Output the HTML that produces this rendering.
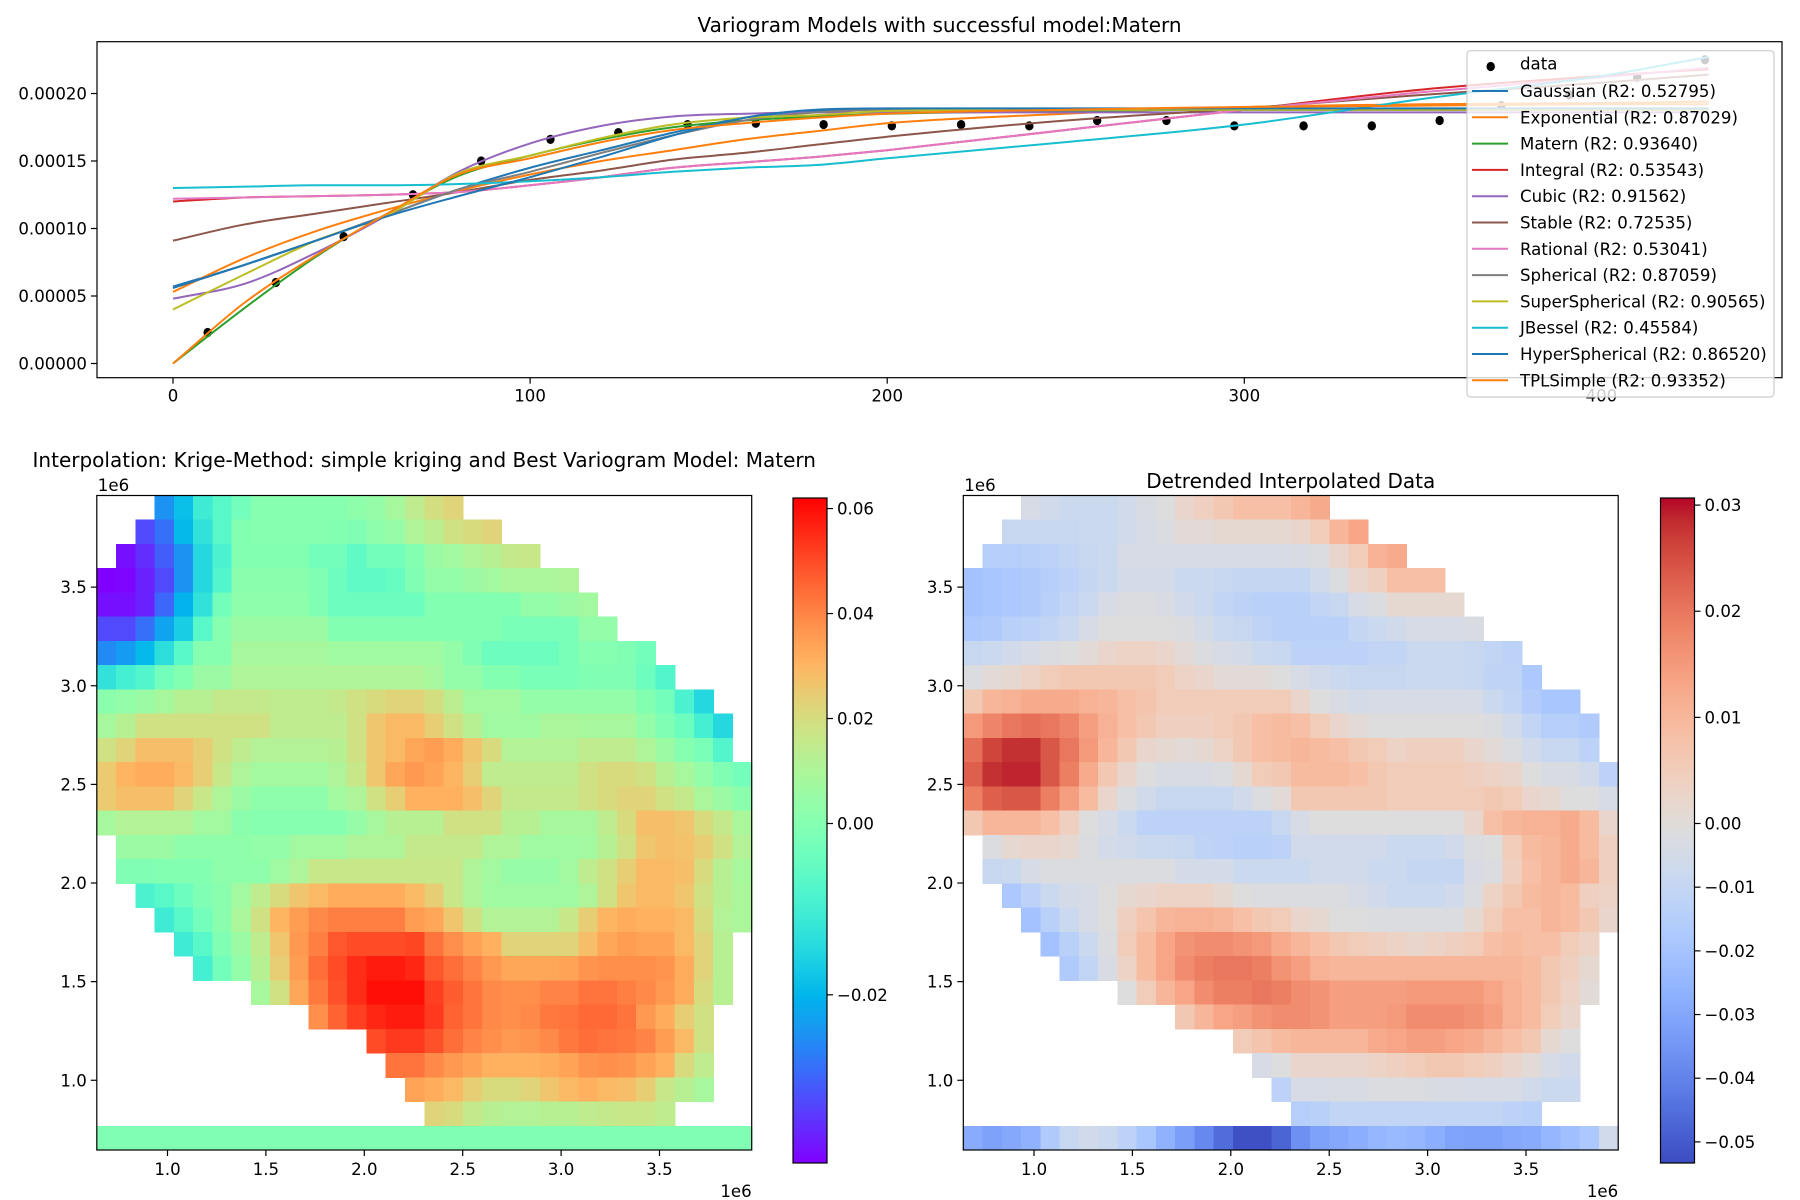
<!DOCTYPE html>
<html>
<head>
<meta charset="utf-8">
<style>
  html,body{margin:0;padding:0;background:#fff;}
  svg{display:block;font-family:"DejaVu Sans","Liberation Sans",sans-serif;}
</style>
</head>
<body>
<svg id="fig" xmlns="http://www.w3.org/2000/svg" width="1800" height="1200" viewBox="0 0 1800 1200">
  <rect x="0" y="0" width="1800" height="1200" fill="#ffffff"/>
</svg>
<script>
// ================= TOP CHART DATA (variance values in units of 1e-5) =================
const lagX = [0,20,40,60,80,100,120,140,160,180,200,250,300,350,400,430];
const dataX = [9.7,28.8,47.8,67.2,86.3,105.7,124.7,144.1,163.2,182.2,201.3,220.7,239.8,258.8,278.2,297.2,316.6,335.7,354.7,372,391,410,429];
const dataY = [2.3,6.0,9.4,12.5,15.0,16.6,17.1,17.7,17.8,17.7,17.6,17.7,17.6,18.0,18.0,17.6,17.6,17.6,18.0,19.1,19.9,21.2,22.5];
const gaussianVals      = [5.7,7.3,9.1,11.0,12.9,14.5,15.8,17.1,18.2,18.7,18.8,18.8,18.8,18.8,18.8,18.8];
const exponentialVals   = [5.3,7.8,9.8,11.4,12.8,14.0,15.0,15.8,16.6,17.2,17.8,18.5,19.0,19.2,19.3,19.4];
const maternVals        = [0.0,4.1,7.9,11.1,13.9,15.4,16.6,17.5,18.0,18.3,18.5,18.7,18.8,18.8,18.8,18.8];
const integralVals      = [12.0,12.3,12.4,12.5,12.7,13.2,13.8,14.5,14.9,15.3,15.8,17.3,18.8,20.3,21.3,21.8];
const cubicVals         = [4.8,5.9,8.2,11.0,14.2,16.3,17.6,18.3,18.5,18.6,18.6,18.6,18.6,18.6,18.6,18.6];
const stableVals        = [9.1,10.3,11.1,11.9,12.7,13.6,14.3,15.1,15.6,16.2,16.8,18.0,18.9,19.9,20.8,21.4];
const rationalVals      = [12.2,12.3,12.4,12.5,12.7,13.2,13.8,14.5,14.9,15.3,15.8,17.3,18.8,20.1,21.2,21.9];
const sphericalVals     = [5.6,7.3,9.1,11.0,12.9,14.2,15.6,16.9,18.0,18.6,18.8,18.8,18.8,18.8,18.8,18.8];
const superSphericalVals= [4.0,6.6,9.1,11.0,14.1,15.4,16.7,17.7,18.2,18.4,18.7,18.8,18.8,18.8,18.8,18.8];
const jbesselVals       = [13.0,13.1,13.2,13.2,13.3,13.5,13.8,14.2,14.5,14.7,15.2,16.4,17.7,19.6,21.3,22.7];
const hyperSphericalVals= [5.6,7.3,9.1,10.9,12.4,13.8,15.3,16.9,18.2,18.8,18.9,18.9,18.9,18.9,18.9,18.9];
const tplSimpleVals     = [0.0,4.5,8.0,11.1,14.0,15.2,16.4,17.3,17.8,18.2,18.5,18.8,19.0,19.1,19.2,19.2];
const modelNames = ["Gaussian","Exponential","Matern","Integral","Cubic","Stable","Rational","Spherical","SuperSpherical","JBessel","HyperSpherical","TPLSimple"];
const modelR2 = ["0.52795","0.87029","0.93640","0.53543","0.91562","0.72535","0.53041","0.87059","0.90565","0.45584","0.86520","0.93352"];
const modelSeries = [gaussianVals,exponentialVals,maternVals,integralVals,cubicVals,stableVals,rationalVals,sphericalVals,superSphericalVals,jbesselVals,hyperSphericalVals,tplSimpleVals];
const xTickVals = [0,100,200,300,400];
const yTickVals = [0,5,10,15,20];
const yTickLabels = ["0.00000","0.00005","0.00010","0.00015","0.00020"];

// ================= HEATMAP DATA (values in units of 1e-3; rows top->bottom) =================
const gridStarts = [3,2,1,0,0,0,0,0,0,0,0,0,0,0,1,1,2,3,4,5,8,11,14,15,16,17,0];
const krigeRows = [
[-24,-18,-10,-6,-2,2,2,2,2,2,4,6,10,16,21,24],
[-32,-28,-19,-12,-6,1,2,2,2,2,1,0,4,6,12,15,20,22,24],
[-38,-35,-30,-24,-14,-8,1,1,1,1,-2,-2,-5,-2,-2,1,7,9,12,14,17,18],
[-40,-39,-36,-32,-24,-14,-7,3,3,3,3,0,-3,-5,-5,-4,0,5,5,7,9,11,11,11,12],
[-38,-38,-36,-29,-20,-12,-2,4,4,4,4,0,-3,-3,-3,-3,-3,1,1,1,1,1,5,5,7,9],
[-32,-32,-28,-22,-16,-6,2,7,7,7,7,7,1,1,1,1,1,1,1,1,1,-1,-1,-1,-1,5,5],
[-25,-23,-19,-13,-6,2,2,10,10,10,10,10,8,8,8,8,8,8,5,0,-3,-3,-3,-3,-1,2,2,0,-2],
[-12,-9,-7,-2,1,7,7,12,12,12,12,12,12,12,12,12,12,10,5,5,1,1,-1,-1,-1,0,0,0,-3,-7],
[3,5,7,10,14,14,17,17,17,16,16,16,17,20,22,24,24,21,15,9,9,9,5,5,5,5,5,5,1,-2,-8,-14],
[10,14,20,20,20,20,20,20,20,16,16,16,16,20,28,31,31,26,20,14,8,8,8,11,11,10,10,10,5,0,-3,-9,-14],
[20,24,30,30,30,26,20,16,13,13,13,13,14,20,28,31,35,37,34,28,22,13,13,13,13,16,16,16,12,7,2,-1,-7],
[27,32,34,34,31,26,18,12,9,9,9,9,12,18,28,35,38,36,32,26,16,16,16,16,16,20,22,22,20,14,10,5,0,-2],
[27,30,30,30,24,18,12,7,4,4,4,4,9,12,20,26,33,33,33,30,24,17,17,17,17,20,22,24,24,20,17,11,7,3],
[10,13,13,13,13,9,9,3,2,2,2,2,2,6,10,14,14,14,20,20,20,14,14,10,10,10,16,22,30,30,28,22,17,11],
[7,7,7,4,4,4,4,5,5,9,9,9,12,12,12,17,17,17,17,12,12,8,8,8,9,14,20,28,30,29,26,20,13],
[0,0,1,1,1,4,4,4,8,12,18,18,18,18,18,18,18,18,12,9,6,6,6,9,16,20,26,31,31,30,22,14,10],
[-8,-6,-3,0,3,9,16,22,28,31,34,34,34,34,31,26,18,12,8,8,8,8,8,12,20,28,31,31,28,20,14,11],
[-10,-6,-2,3,11,20,32,37,41,43,43,43,43,37,35,28,20,13,13,13,13,18,26,32,34,33,33,31,22,13,11],
[-10,-6,0,7,16,28,38,43,50,52,52,52,53,45,40,36,33,24,24,24,24,30,35,37,36,36,31,24,14],
[-9,-2,5,14,26,37,46,52,57,60,60,58,50,46,42,38,35,35,35,36,39,40,40,40,39,34,24,14],
[10,20,35,44,51,57,62,62,62,54,49,45,41,40,40,42,42,45,45,43,41,38,34,22,14],
[40,48,54,58,60,60,55,48,45,41,40,41,44,45,47,47,45,38,34,26,20],
[52,55,55,51,46,42,40,38,39,41,44,46,45,44,42,37,31,20],
[45,45,41,38,36,33,33,33,34,36,39,40,39,36,33,22,16],
[36,34,31,26,22,22,24,28,31,33,31,30,26,18,14,10],
[24,22,17,14,13,13,14,14,16,17,18,18,16],
[0,0,0,0,0,0,0,0,0,0,0,0,0,0,0,0,0,0,0,0,0,0,0,0,0,0,0,0,0,0,0,0,0,0]
];
const detrendRows = [
[-3,-5,-7,-7,-7,-5,-2,0,3,5,7,9,9,9,11,13],
[-8,-8,-8,-8,-7,-7,-5,-3,-1,1,1,2,2,2,2,3,6,11,14],
[-14,-14,-13,-12,-10,-8,-7,-3,-3,-3,-3,-3,-3,-3,-3,-3,-2,-1,3,6,12,13],
[-20,-18,-17,-16,-14,-12,-9,-7,-4,-4,-4,-7,-7,-8,-9,-9,-9,-9,-5,-1,3,5,9,9,9],
[-20,-18,-17,-16,-13,-10,-7,-3,-1,-1,-2,-5,-7,-10,-12,-13,-13,-13,-10,-8,-3,-1,2,2,2,2],
[-17,-16,-13,-12,-10,-7,-3,0,0,0,0,-1,-4,-7,-8,-11,-13,-13,-13,-13,-9,-7,-5,-3,-3,-3,-2],
[-8,-7,-5,-3,-1,0,1,3,4,4,3,1,-1,-3,-4,-7,-8,-12,-12,-12,-12,-10,-10,-7,-7,-7,-8,-10,-12],
[-1,1,2,4,6,7,7,7,7,7,6,4,3,1,1,1,0,-3,-5,-7,-8,-8,-8,-7,-7,-7,-8,-11,-11,-17],
[7,11,12,13,13,13,12,11,9,8,6,6,6,6,6,6,6,3,0,-2,-4,-3,-3,-3,-3,-3,-3,-7,-10,-15,-18,-18],
[16,19,21,22,21,19,15,12,9,7,5,5,5,6,7,9,10,9,6,3,1,0,0,0,0,0,0,-1,-5,-10,-14,-14,-16],
[22,27,29,29,25,21,16,11,7,3,2,1,2,4,7,9,10,11,10,9,7,6,4,5,5,5,3,1,-1,-5,-8,-8,-12],
[24,29,30,30,25,20,13,7,3,0,-2,-2,-2,-1,2,6,7,10,10,10,9,7,6,6,6,6,5,4,3,0,-2,-2,-5,-12],
[20,24,25,25,20,15,10,3,-1,-5,-8,-8,-8,-8,-5,-1,1,7,7,7,7,7,6,6,6,6,6,7,6,3,2,0,0,-3],
[7,11,11,11,9,5,0,-3,-7,-12,-12,-12,-12,-12,-12,-12,-8,-3,0,0,0,0,0,0,0,0,3,9,11,12,12,13,10,3],
[-1,2,3,3,2,-1,-4,-5,-7,-7,-8,-11,-12,-13,-13,-12,-5,-5,-5,-5,-5,-7,-7,-7,-5,-1,0,6,10,11,13,10,5],
[-8,-7,-3,-1,-1,-1,-1,-1,-1,-1,-4,-4,-4,-7,-7,-7,-7,-5,-5,-5,-7,-7,-9,-9,-9,-2,-1,5,9,11,13,11,5],
[-17,-12,-7,-4,-3,0,2,3,4,4,4,2,0,-1,-1,-1,-1,-1,-3,-5,-7,-7,-7,-5,-1,4,7,10,11,10,5,4],
[-20,-13,-7,-3,0,5,8,11,12,12,11,9,7,6,3,2,0,0,-1,-1,-1,-1,-1,2,6,9,9,11,10,7,3],
[-20,-13,-7,-1,6,10,14,17,18,18,17,16,13,11,9,7,6,5,4,3,4,5,6,9,10,9,9,6,4],
[-16,-10,-2,4,10,14,18,20,21,21,20,17,15,12,11,11,11,11,11,11,11,11,11,11,10,7,5,2],
[0,6,11,14,18,20,20,21,20,18,17,15,15,15,15,16,16,16,16,14,12,10,7,4,1],
[7,11,14,15,17,18,18,17,15,15,15,16,18,18,18,17,15,12,10,6,3],
[6,8,10,11,11,11,11,13,14,15,15,14,13,11,9,7,2,0],
[-3,0,3,3,3,3,4,5,6,7,7,6,5,3,1,-3,-5],
[-12,-3,-3,-2,-2,-1,-1,-1,-2,-2,-3,-3,-3,-5,-7,-7],
[-14,-13,-10,-10,-10,-10,-10,-10,-10,-10,-10,-12,-13],
[-28,-31,-29,-26,-16,-8,-5,-7,-12,-18,-26,-32,-38,-45,-52,-52,-47,-36,-31,-29,-27,-24,-23,-24,-27,-30,-31,-31,-29,-28,-24,-21,-17,-5]
];
const mapTickVals = [1.0,1.5,2.0,2.5,3.0,3.5];
const mapTickLabels = ["1.0","1.5","2.0","2.5","3.0","3.5"];
const krigeCbarTicks = [0.06,0.04,0.02,0.00,-0.02];
const detrendCbarTicks = [0.03,0.02,0.01,0.00,-0.01,-0.02,-0.03,-0.04,-0.05];

// ================= helpers =================
const NS = "http://www.w3.org/2000/svg";
const svg = document.getElementById("fig");
function mk(tag, attrs, parent) {
  const e = document.createElementNS(NS, tag);
  for (const k in attrs) e.setAttribute(k, attrs[k]);
  (parent || svg).appendChild(e);
  return e;
}
function txt(str, attrs, parent) {
  const e = mk("text", attrs, parent);
  e.textContent = str;
  return e;
}
const FONT = 16.6, TITLE = 20.0;
function fmtTick(v) { const s = v.toFixed(2); return v < 0 ? "\u2212" + s.slice(1) : s; }

function monoPath(px, py) {
  const n = px.length, d = [], m = [];
  for (let i = 0; i < n - 1; i++) d.push((py[i+1]-py[i])/(px[i+1]-px[i]));
  m[0] = d[0]; m[n-1] = d[n-2];
  for (let i = 1; i < n - 1; i++) m[i] = (d[i-1]*d[i] <= 0) ? 0 : (d[i-1]+d[i])/2;
  for (let i = 0; i < n - 1; i++) {
    if (d[i] === 0) { m[i] = 0; m[i+1] = 0; continue; }
    const a = m[i]/d[i], b = m[i+1]/d[i], s = a*a + b*b;
    if (s > 9) { const t = 3/Math.sqrt(s); m[i] = t*a*d[i]; m[i+1] = t*b*d[i]; }
  }
  let p = "M" + px[0].toFixed(2) + "," + py[0].toFixed(2);
  for (let i = 0; i < n - 1; i++) {
    const h = (px[i+1]-px[i])/3;
    p += " C" + (px[i]+h).toFixed(2) + "," + (py[i]+m[i]*h).toFixed(2) + " " +
         (px[i+1]-h).toFixed(2) + "," + (py[i+1]-m[i+1]*h).toFixed(2) + " " +
         px[i+1].toFixed(2) + "," + py[i+1].toFixed(2);
  }
  return p;
}

// ================= TOP CHART =================
const T = {L: 97, R: 1782, T: 41.7, B: 377.7};
const xTop = v => 173 + v * 3.571;
const yTop = v => 363.5 - v * 13.5;
const defs = mk("defs", {});
const cp = mk("clipPath", {id: "topclip"}, defs);
mk("rect", {x: T.L, y: T.T, width: T.R - T.L, height: T.B - T.T}, cp);

const topG = mk("g", {});



const topTitle = txt("Variogram Models with successful model:Matern", {x: (T.L+T.R)/2, y: 32, "text-anchor": "middle", "font-size": TITLE, fill: "#000"}, topG);



const plotG = mk("g", {"clip-path": "url(#topclip)"}, topG);



const dotsG = mk("g", {}, plotG);


for (let i = 0; i < dataX.length; i++) {
  const c = mk("ellipse", {cx: xTop(dataX[i]), cy: yTop(dataY[i]), rx: 4.2, ry: 4.6, fill: "#000"}, dotsG);
  
  
}
const colors = ["#1f77b4","#ff7f0e","#2ca02c","#d62728","#9467bd","#8c564b","#e377c2","#7f7f7f","#bcbd22","#17becf","#1f77b4","#ff7f0e"];
const lagPx = lagX.map(xTop);
for (let k = 0; k < modelSeries.length; k++) {
  const path = mk("path", {d: monoPath(lagPx, modelSeries[k].map(yTop)), fill: "none", stroke: colors[k], "stroke-width": 2, "stroke-linejoin": "round"}, plotG);
  
  
}
const topFrame = mk("rect", {x: T.L, y: T.T, width: T.R - T.L, height: T.B - T.T, fill: "none", stroke: "#000", "stroke-width": 1.2}, topG);



for (let i = 0; i < xTickVals.length; i++) {
  const x = xTop(xTickVals[i]);
  const tk = mk("line", {x1: x, x2: x, y1: T.B, y2: T.B + 6, stroke: "#000", "stroke-width": 1.2}, topG);
  
  
  const lb = txt(String(xTickVals[i]), {x: x, y: T.B + 24, "text-anchor": "middle", "font-size": FONT}, topG);
  
  
}
for (let i = 0; i < yTickVals.length; i++) {
  const y = yTop(yTickVals[i]);
  const tk = mk("line", {x1: T.L - 6, x2: T.L, y1: y, y2: y, stroke: "#000", "stroke-width": 1.2}, topG);
  
  
  const lb = txt(yTickLabels[i], {x: T.L - 10, y: y + 6, "text-anchor": "end", "font-size": FONT}, topG);
  
  
}

const legG = mk("g", {}, topG);


const legBox = mk("rect", {x: 1467, y: 50.7, width: 307, height: 346.3, rx: 3.5, fill: "#ffffff", "fill-opacity": 0.8, stroke: "#cccccc", "stroke-width": 1.2}, legG);


const ld = mk("ellipse", {cx: 1490.7, cy: 66.5, rx: 4.2, ry: 4.6, fill: "#000"}, legG);


const ldt = txt("data", {x: 1520, y: 69.5, "font-size": FONT}, legG);


for (let k = 0; k < modelNames.length; k++) {
  const cy = 91 + k * 26.3;
  const ln = mk("line", {x1: 1472, x2: 1508, y1: cy, y2: cy, stroke: colors[k], "stroke-width": 2}, legG);
  
  
  const lt = txt(modelNames[k] + " (R2: " + modelR2[k] + ")", {x: 1520, y: cy + 6, "font-size": FONT}, legG);
  
  
}

// ================= colormaps =================
function clamp01(v) { return Math.max(0, Math.min(1, v)); }
function rainbow(t) {
  t = clamp01(t);
  const r = clamp01(Math.abs(2*t - 0.5)), g = clamp01(Math.sin(Math.PI*t)), b = clamp01(Math.cos(Math.PI*t/2));
  return "rgb(" + Math.round(r*255) + "," + Math.round(g*255) + "," + Math.round(b*255) + ")";
}
const CW = [[59,76,192],[68,90,204],[77,104,215],[87,117,225],[98,130,234],[108,142,241],[119,154,247],[130,165,251],[141,176,254],[152,185,255],[163,194,255],[174,201,253],[184,208,249],[194,213,244],[204,217,238],[213,219,230],[221,221,221],[229,216,209],[236,211,197],[241,204,185],[245,196,173],[247,187,160],[247,177,148],[247,166,135],[244,154,123],[241,141,111],[236,127,99],[229,112,88],[222,96,77],[213,80,66],[203,62,56],[192,40,47],[180,4,38]];
function coolwarm(t) {
  t = clamp01(t) * 32;
  const i = Math.min(31, Math.floor(t)), f = t - i, a = CW[i], b = CW[i+1];
  return "rgb(" + Math.round(a[0]+(b[0]-a[0])*f) + "," + Math.round(a[1]+(b[1]-a[1])*f) + "," + Math.round(a[2]+(b[2]-a[2])*f) + ")";
}
function twoSlope(v, vmin, vmax) { return v >= 0 ? 0.5 + 0.5 * v / vmax : 0.5 * (1 - v / vmin); }

// ================= HEATMAPS =================
const XD = [0.6407, 3.9685], YD = [0.6465, 3.9645];
const NCOL = 34, NROW = 27;
const CB = {T: 486, B: 1161, W: 34, barT: 498, barB: 1163};

function drawPanel(cfg) {
  const g = mk("g", {});
  
  
  const L = cfg.L, R = cfg.L + 654.9, TT = 495.5, BB = 1150;
  const hx = v => L + (v - XD[0]) / (XD[1] - XD[0]) * (R - L);
  const hy = v => BB - (v - YD[0]) / (YD[1] - YD[0]) * (BB - TT);
  const dx = (XD[1] - XD[0]) / NCOL, dy = (YD[1] - YD[0]) / NROW;

  const title = txt(cfg.title, {x: (L+R)/2, y: cfg.titleY, "text-anchor": "middle", "font-size": TITLE}, g);
  
  

  const cells = mk("g", {"shape-rendering": "crispEdges"}, g);
  
  
  for (let r = 0; r < cfg.rows.length; r++) {
    const row = cfg.rows[r];
    for (let j = 0; j < row.length; j++) {
      const c = gridStarts[r] + j;
      const x0 = hx(XD[0] + c*dx), x1 = hx(XD[0] + (c+1)*dx);
      const y0 = hy(YD[1] - r*dy), y1 = hy(YD[1] - (r+1)*dy);
      const v = row[j] / 1000;
      const rc = mk("rect", {x: x0.toFixed(2), y: y0.toFixed(2), width: (x1-x0+0.6).toFixed(2), height: (y1-y0+0.6).toFixed(2), fill: cfg.cmap(twoSlope(v, cfg.vmin, cfg.vmax))}, cells);
      
      
    }
  }
  const frame = mk("rect", {x: L, y: TT, width: R-L, height: BB-TT, fill: "none", stroke: "#000", "stroke-width": 1.2}, g);
  
  

  for (let i = 0; i < mapTickVals.length; i++) {
    const x = hx(mapTickVals[i]);
    const tk = mk("line", {x1: x, x2: x, y1: BB, y2: BB+6, stroke: "#000", "stroke-width": 1.2}, g);
    
    
    const lb = txt(mapTickLabels[i], {x: x, y: BB + 25, "text-anchor": "middle", "font-size": FONT}, g);
    
    
    const y = hy(mapTickVals[i]);
    const tk2 = mk("line", {x1: L-6, x2: L, y1: y, y2: y, stroke: "#000", "stroke-width": 1.2}, g);
    
    
    const lb2 = txt(mapTickLabels[i], {x: L - 10, y: y + 6, "text-anchor": "end", "font-size": FONT}, g);
    
    
  }
  const offY = txt("1e6", {x: L + 1, y: 491, "font-size": FONT}, g);
  
  
  const offX = txt("1e6", {x: R, y: 1197, "text-anchor": "end", "font-size": FONT}, g);
  
  

  const cbG = mk("g", {}, g);
  
  
  const gid = cfg.name + "-grad";
  const grad = mk("linearGradient", {id: gid, x1: 0, y1: 1, x2: 0, y2: 0}, defs);
  for (let s = 0; s <= 64; s++) {
    mk("stop", {offset: (s/64).toFixed(4), "stop-color": cfg.cmap(s/64)}, grad);
  }
  const bar = mk("rect", {x: cfg.cbX, y: CB.barT, width: CB.W, height: CB.barB - CB.barT, fill: "url(#" + gid + ")", stroke: "#000", "stroke-width": 1.2}, cbG);
  
  
  for (let i = 0; i < cfg.ticks.length; i++) {
    const t = twoSlope(cfg.ticks[i], cfg.vmin, cfg.vmax);
    const y = CB.B - t * (CB.B - CB.T);
    const tk = mk("line", {x1: cfg.cbX + CB.W, x2: cfg.cbX + CB.W + 6, y1: y, y2: y, stroke: "#000", "stroke-width": 1.2}, cbG);
    
    
    const lb = txt(fmtTick(cfg.ticks[i]), {x: cfg.cbX + CB.W + 10, y: y + 6, "font-size": FONT}, cbG);
    
    
  }
}

drawPanel({name: "krige-heatmap", title: "Interpolation: Krige-Method: simple kriging and Best Variogram Model: Matern", titleY: 467,
  L: 96.8, rows: krigeRows, cmap: rainbow, vmin: -0.0394, vmax: 0.0643, cbX: 793, ticks: krigeCbarTicks});
drawPanel({name: "detrended-heatmap", title: "Detrended Interpolated Data", titleY: 488,
  L: 963.3, rows: detrendRows, cmap: coolwarm, vmin: -0.053, vmax: 0.0318, cbX: 1660.5, ticks: detrendCbarTicks});
</script>
</body>
</html>
